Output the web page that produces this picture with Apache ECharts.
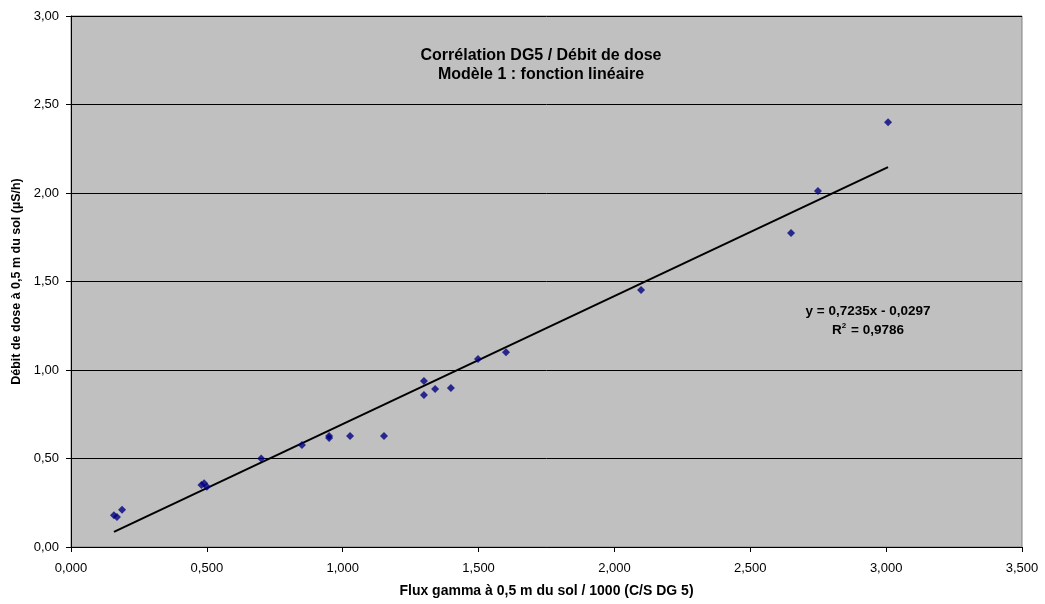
<!DOCTYPE html>
<html><head><meta charset="utf-8">
<script src="https://cdn.jsdelivr.net/npm/echarts@6/dist/echarts.min.js"></script>
<style>html,body{margin:0;padding:0;background:#fff}#c{width:1045px;height:604px}</style>
</head><body><div id="c"></div>
<script>
var fluxX = [0.158, 0.169, 0.188, 0.480, 0.490, 0.500, 0.700, 0.850, 0.950, 0.950, 1.027, 1.152, 1.299, 1.299, 1.340, 1.398, 1.498, 1.601, 2.098, 2.650, 2.749, 3.007];
var doseY = [0.18, 0.17, 0.21, 0.35, 0.36, 0.34, 0.50, 0.576, 0.627, 0.616, 0.627, 0.627, 0.938, 0.859, 0.893, 0.898, 1.062, 1.10, 1.452, 1.774, 2.011, 2.40];
var trendX = [0.158, 3.007];
var trendY = [0.085, 2.146];
var titleLines = ['Corrélation DG5 / Débit de dose', 'Modèle 1 : fonction linéaire'];
var eqLine = 'y = 0,7235x - 0,0297';
var r2Line = '0,9786';
var xName = 'Flux gamma à 0,5 m du sol / 1000 (C/S DG 5)';
var yName = 'Débit de dose à 0,5 m du sol (µS/h)';

var F = 'Liberation Sans, Arial, sans-serif';
var chart = echarts.init(document.getElementById('c'));
var pts = fluxX.map(function(x,i){return [x, doseY[i]];});
var tr = trendX.map(function(x,i){return [x, trendY[i]];});
chart.setOption({
  animation:false,
  backgroundColor:'#ffffff',
  title:{
    text: titleLines.join('\n'),
    left: 536, top: 41, textAlign:'center',
    textStyle:{fontFamily:F, fontSize:16, fontWeight:'bold', color:'#000', lineHeight:19}
  },
  grid:{left:71, top:16, right:23, bottom:57, show:true, backgroundColor:'#C0C0C0', borderColor:'#808080', borderWidth:1},
  xAxis:{
    type:'value', min:0, max:3.5, interval:0.5,
    name:xName, nameLocation:'middle', nameGap:37,
    nameTextStyle:{fontFamily:F, fontSize:14, fontWeight:'bold', color:'#000'},
    axisLine:{show:true, onZero:false, lineStyle:{color:'#000', width:1}},
    axisTick:{show:true, inside:false, length:5, lineStyle:{color:'#000'}},
    axisLabel:{fontFamily:F, fontSize:13, color:'#000', margin:15,
      formatter:function(v){return v.toFixed(3).replace('.',',');}},
    splitLine:{show:false}
  },
  yAxis:{
    type:'value', min:0, max:3, interval:0.5,
    name:yName, nameLocation:'middle', nameGap:46, nameRotate:90,
    nameTextStyle:{fontFamily:F, fontSize:12.5, fontWeight:'bold', color:'#000'},
    axisLine:{show:true, onZero:false, lineStyle:{color:'#000', width:1}},
    axisTick:{show:true, inside:false, length:5, lineStyle:{color:'#000'}},
    axisLabel:{fontFamily:F, fontSize:13, color:'#000', margin:12,
      formatter:function(v){return v.toFixed(2).replace('.',',');}},
    splitLine:{show:true, lineStyle:{color:'#000', width:1}}
  },
  series:[
    {type:'line', data:tr, symbol:'none', lineStyle:{color:'#000', width:2}, z:2, silent:true},
    {type:'scatter', data:pts, symbol:'diamond', symbolSize:8, itemStyle:{color:'#000080'}, z:3}
  ],
  graphic:[{
    type:'text', x:868, y:311,
    style:{text: eqLine, align:'center', verticalAlign:'middle',
      font:'bold 13.5px ' + F, fill:'#000'}
  },{
    type:'text', x:868, y:330,
    style:{
      text: '{b|R}{s|2}{b| = ' + r2Line + '}',
      align:'center', verticalAlign:'middle',
      rich:{
        b:{fontFamily:F, fontSize:13.5, fontWeight:'bold', fill:'#000'},
        s:{fontFamily:F, fontSize:8, fontWeight:'bold', fill:'#000', verticalAlign:'top', padding:[0,1,9,0]}
      }
    }
  }]
});
</script></body></html>
